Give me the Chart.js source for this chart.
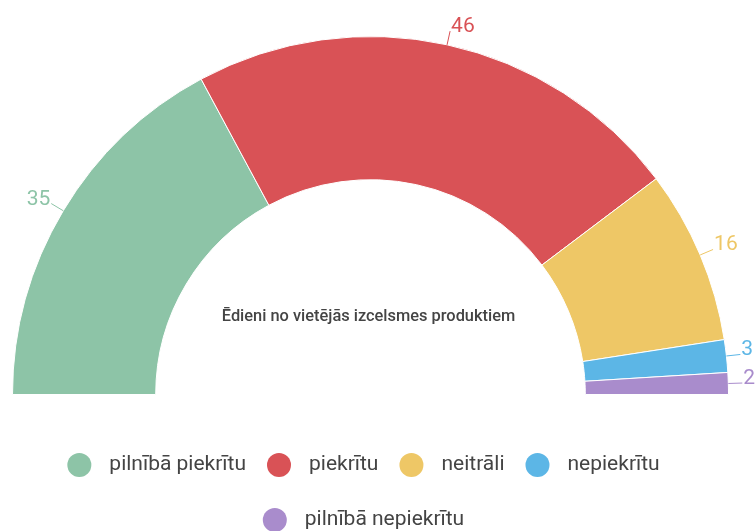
<!DOCTYPE html>
<html><head><meta charset="utf-8">
<script src="https://cdn.jsdelivr.net/npm/chart.js@4.4.1/dist/chart.umd.min.js"></script>
<style>html,body{margin:0;padding:0;background:#fff}#wrap{width:756px;height:531px}</style>
</head><body><div id="wrap"><canvas id="c" width="756" height="531"></canvas></div>
<script>
const categories = ['pilnībā piekrītu', 'piekrītu', 'neitrāli', 'nepiekrītu', 'pilnībā nepiekrītu'];
const values = [35, 46, 16, 3, 2];
const colors = ['#8dc4a7', '#d95256', '#eec766', '#5cb6e6', '#a98ccc'];
const centerTitle = 'Ēdieni no vietējās izcelsmes produktiem';

const outLabels = {
  id: 'outLabels',
  afterDatasetsDraw(chart) {
    const ctx = chart.ctx;
    const ds = chart.data.datasets[0];
    const meta = chart.getDatasetMeta(0);
    ctx.save();
    ctx.font = '400 21px Roboto';
    let cx = 0, cy = 0;
    meta.data.forEach((arc, i) => {
      const p = arc.getProps(['x', 'y', 'startAngle', 'endAngle', 'outerRadius'], true);
      cx = p.x; cy = p.y;
      const a = (p.startAngle + p.endAngle) / 2;
      const c = Math.cos(a), s = Math.sin(a);
      const x1 = p.x + c * p.outerRadius, y1 = p.y + s * p.outerRadius;
      const x2 = p.x + c * (p.outerRadius + 14), y2 = p.y + s * (p.outerRadius + 14);
      ctx.strokeStyle = ds.backgroundColor[i];
      ctx.lineWidth = 1;
      ctx.beginPath(); ctx.moveTo(x1, y1); ctx.lineTo(x2, y2); ctx.stroke();
      ctx.fillStyle = ds.backgroundColor[i];
      ctx.textAlign = c >= 0 ? 'left' : 'right';
      ctx.textBaseline = 'alphabetic';
      ctx.fillText(String(ds.data[i]), x2 + (c >= 0 ? 1 : -1), y2 + 1);
    });
    ctx.font = '500 16.4px Roboto';
    ctx.fillStyle = '#444';
    ctx.textAlign = 'center';
    ctx.textBaseline = 'alphabetic';
    ctx.fillText(centerTitle, cx - 2, cy - 74);
    ctx.restore();
  }
};

const circleLegend = {
  id: 'circleLegend',
  afterDraw(chart) {
    const ctx = chart.ctx;
    const ds = chart.data.datasets[0];
    ctx.save();
    ctx.font = '400 21px Roboto';
    const d = 24, gapBT = 18, gapItem = 21, maxRowW = 640;
    const items = chart.data.labels.map((t, i) => ({ t, c: ds.backgroundColor[i], w: d + gapBT + ctx.measureText(t).width }));
    const rows = [[]];
    let rw = 0;
    items.forEach(it => {
      const add = (rows[rows.length - 1].length ? gapItem : 0) + it.w;
      if (rw + add > maxRowW && rows[rows.length - 1].length) { rows.push([]); rw = 0; }
      rw += (rows[rows.length - 1].length ? gapItem : 0) + it.w;
      rows[rows.length - 1].push(it);
    });
    const cx = (chart.chartArea.left + chart.chartArea.right) / 2 - 7;
    const y0 = chart.chartArea.bottom + 70;
    rows.forEach((row, r) => {
      const total = row.reduce((s, it) => s + it.w, 0) + gapItem * (row.length - 1);
      let x = cx - total / 2;
      const y = y0 + r * 55;
      row.forEach(it => {
        ctx.fillStyle = it.c;
        ctx.beginPath(); ctx.arc(x + d / 2, y, d / 2, 0, Math.PI * 2); ctx.fill();
        ctx.fillStyle = '#444';
        ctx.textAlign = 'left';
        ctx.textBaseline = 'middle';
        ctx.fillText(it.t, x + d + gapBT, y);
        x += it.w + gapItem;
      });
    });
    ctx.restore();
  }
};

new Chart(document.getElementById('c'), {
  type: 'doughnut',
  data: {
    labels: categories,
    datasets: [{
      data: values,
      backgroundColor: colors,
      borderColor: '#ffffff',
      borderWidth: 1,
      hoverOffset: 0
    }]
  },
  options: {
    responsive: false,
    devicePixelRatio: 1,
    animation: false,
    rotation: -90,
    circumference: 180,
    cutout: '60%',
    layout: { padding: { left: 12, right: 27, top: 36, bottom: 136 } },
    plugins: {
      legend: { display: false },
      tooltip: { enabled: false }
    }
  },
  plugins: [outLabels, circleLegend]
});
</script>
</body></html>
